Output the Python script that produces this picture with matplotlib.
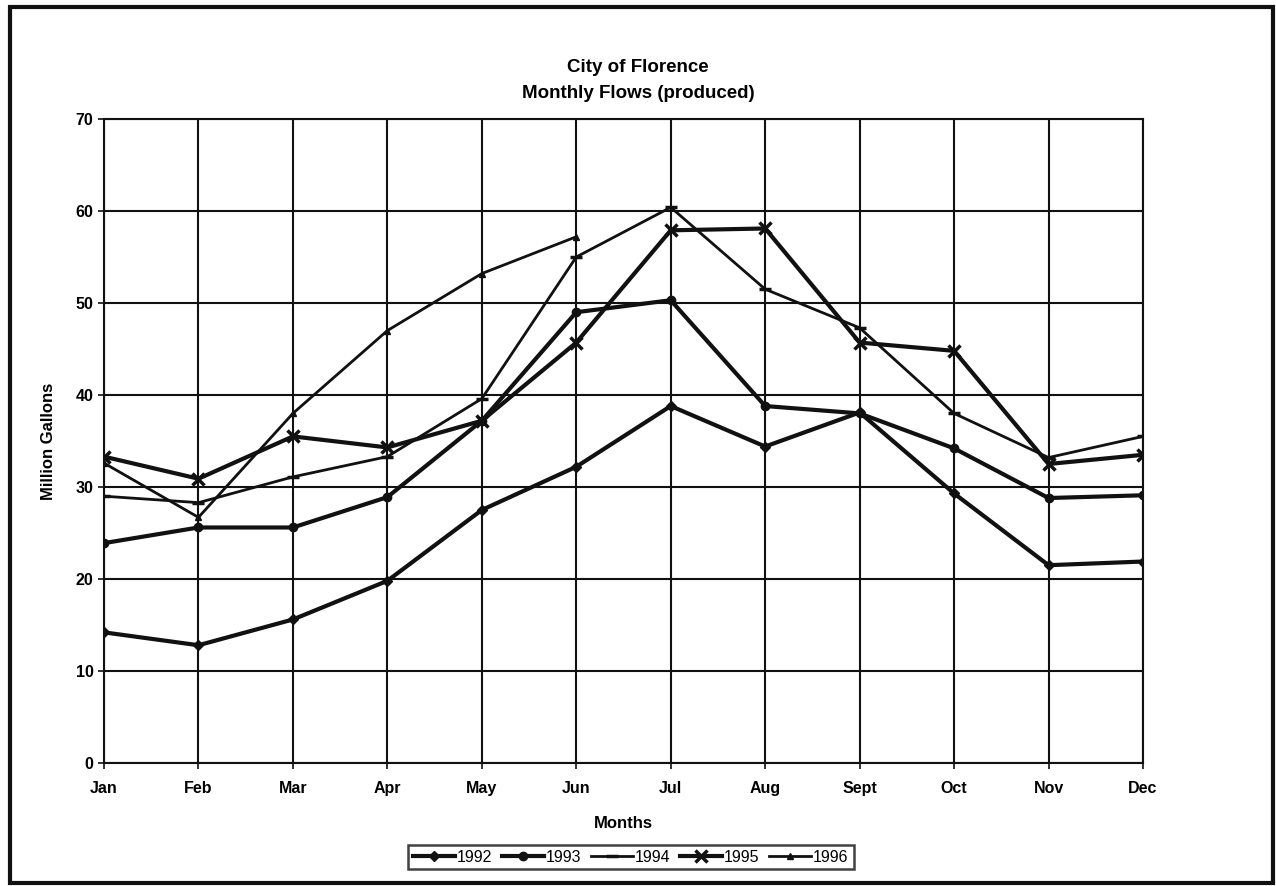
import matplotlib
matplotlib.use("Agg")
import matplotlib.pyplot as plt
from matplotlib.patches import Rectangle

months = ["Jan", "Feb", "Mar", "Apr", "May", "Jun", "Jul", "Aug", "Sept", "Oct", "Nov", "Dec"]
flow_1992 = [14.2, 12.8, 15.6, 19.8, 27.5, 32.2, 38.8, 34.4, 38.1, 29.3, 21.5, 21.9]
flow_1993 = [23.9, 25.6, 25.6, 28.9, 37.2, 49.0, 50.3, 38.8, 38.0, 34.2, 28.8, 29.1]
flow_1994 = [29.0, 28.3, 31.1, 33.3, 39.6, 55.0, 60.4, 51.5, 47.3, 38.0, 33.2, 35.5]
flow_1995 = [33.3, 30.9, 35.5, 34.3, 37.2, 45.7, 57.9, 58.1, 45.7, 44.8, 32.5, 33.5]
flow_1996 = [32.6, 26.7, 38.0, 47.0, 53.2, 57.2]
years = ["1992", "1993", "1994", "1995", "1996"]
yticks = [0, 10, 20, 30, 40, 50, 60, 70]

plt.rcParams['font.family'] = ['Liberation Sans', 'DejaVu Sans']

fig = plt.figure(figsize=(12.76, 8.86), dpi=100)
ax = fig.add_axes([104/1276, 1-763/886, (1143-104)/1276, (763-119)/886])

x = list(range(len(months)))
series = [flow_1992, flow_1993, flow_1994, flow_1995, flow_1996]
styles = [
    dict(marker='D', ms=5, lw=3.0),
    dict(marker='o', ms=6, lw=3.0),
    dict(marker='_', ms=9, mew=2.5, lw=2.0),
    dict(marker='x', ms=8, mew=2.5, lw=3.0),
    dict(marker='^', ms=5, lw=2.0),
]
handles = []
for yr, vals, st in zip(years, series, styles):
    h, = ax.plot(x[:len(vals)], vals, color='#111111', label=yr, zorder=3, **st)
    handles.append(h)

ax.set_xlim(0, 11)
ax.set_ylim(0, 70)
ax.set_xticks(x)
ax.set_xticklabels(months)
ax.set_yticks(yticks)
ax.grid(True, color='#111111', lw=1.5)
ax.set_axisbelow(True)
for s in ax.spines.values():
    s.set_color('#111111')
    s.set_linewidth(1.5)
ax.tick_params(axis='both', length=4, color='#111111', labelsize=11.5, width=1.2)
for lab in ax.get_xticklabels() + ax.get_yticklabels():
    lab.set_fontweight('bold')
ax.tick_params(axis='x', pad=9)

ax.set_xlabel("Months", fontsize=12, fontweight='bold', labelpad=14)
ax.set_ylabel("Million Gallons", fontsize=12, fontweight='bold', labelpad=14)

fig.text(0.5, 1-67/886, "City of Florence", ha='center', va='center', fontsize=13.5, fontweight='bold')
fig.text(0.5, 1-93/886, "Monthly Flows (produced)", ha='center', va='center', fontsize=13.5, fontweight='bold')

leg = fig.legend(handles=handles, labels=years, loc='center', bbox_to_anchor=(631/1276, 1-857/886),
                 ncol=5, frameon=True, fancybox=False, edgecolor='#111111', fontsize=11.5,
                 handlelength=2.6, handletextpad=0.15, columnspacing=0.6, borderpad=0.3)
leg.get_frame().set_linewidth(1.8)

fig.patches.append(Rectangle((10/1276, 1-883/886), (1273-10)/1276, (883-7)/886,
                             transform=fig.transFigure, fill=False, edgecolor='#111111', lw=3))

fig.savefig("out.png", dpi=100)
